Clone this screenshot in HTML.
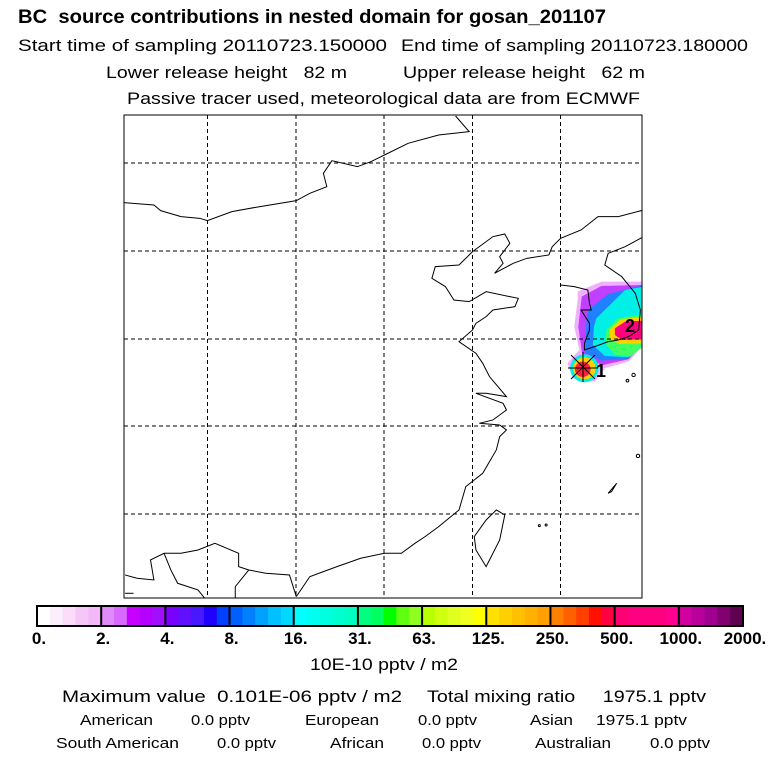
<!DOCTYPE html>
<html><head><meta charset="utf-8">
<style>
body{margin:0;background:#fff;}
svg{display:block;font-family:"Liberation Sans",sans-serif;}
text{white-space:pre;}
</style></head><body>
<svg id="chart" width="768" height="768" viewBox="0 0 768 768">
<g fill="#000">
<text x="18" y="23" font-size="19" font-weight="bold" textLength="588" lengthAdjust="spacingAndGlyphs">BC  source contributions in nested domain for gosan_201107</text>
<text x="18" y="51" font-size="17" textLength="369" lengthAdjust="spacingAndGlyphs">Start time of sampling 20110723.150000</text>
<text x="401" y="51" font-size="17" textLength="347" lengthAdjust="spacingAndGlyphs">End time of sampling 20110723.180000</text>
<text x="106" y="78" font-size="17" textLength="241" lengthAdjust="spacingAndGlyphs">Lower release height   82 m</text>
<text x="403" y="78" font-size="17" textLength="242" lengthAdjust="spacingAndGlyphs">Upper release height   62 m</text>
<text x="127" y="104" font-size="17" textLength="513" lengthAdjust="spacingAndGlyphs">Passive tracer used, meteorological data are from ECMWF</text>
</g>
<defs><clipPath id="mapclip"><rect x="124" y="115" width="518" height="483"/></clipPath></defs>
<g clip-path="url(#mapclip)">
<g transform="translate(120,110) scale(0.339,0.3333)">
<polygon fill="#f0b0ff" points="1350,545 1420,515 1545,515 1545,705 1500,755 1430,775 1400,815 1335,805 1320,760 1355,720 1340,650 1350,570"/>
<polygon fill="#c040ff" points="1362,560 1420,528 1545,525 1545,700 1500,748 1425,765 1365,745 1352,650"/>
<polygon fill="#2080ff" points="1380,600 1440,552 1545,525 1545,697 1500,746 1420,752 1372,728 1375,650"/>
<polygon fill="#00f0e8" points="1405,625 1445,585 1490,540 1545,530 1545,692 1500,742 1430,738 1395,705 1398,650"/>
<polygon fill="#40ff60" points="1435,660 1470,625 1545,612 1545,708 1505,740 1460,735 1432,700"/>
<polygon fill="#ffd000" points="1445,658 1478,628 1545,620 1545,700 1475,702 1445,688"/>
<polygon fill="#ff0080" points="1460,655 1490,635 1545,632 1545,688 1480,690 1460,675"/>
<circle cx="1370" cy="775" r="42" fill="#00f0e8"/>
<circle cx="1370" cy="775" r="33" fill="#ffd000"/>
<circle cx="1365" cy="778" r="23" fill="#ff2040"/>
</g>
<g fill="none" stroke="#000" stroke-width="1" stroke-dasharray="4,3">
<line x1="207.5" y1="115" x2="207.5" y2="598"/><line x1="296" y1="115" x2="296" y2="598"/>
<line x1="384" y1="115" x2="384" y2="598"/><line x1="472.5" y1="115" x2="472.5" y2="598"/>
<line x1="560.5" y1="115" x2="560.5" y2="598"/>
<line x1="124" y1="163" x2="642" y2="163"/><line x1="124" y1="251" x2="642" y2="251"/>
<line x1="124" y1="339" x2="642" y2="339"/><line x1="124" y1="426" x2="642" y2="426"/>
<line x1="124" y1="514" x2="642" y2="514"/>
</g>
<g transform="translate(120,110) scale(0.339,0.3333)" fill="none" stroke="#000" stroke-width="1">
<polyline vector-effect="non-scaling-stroke" points="12,278 100,285 120,302 180,320 235,325 258,332 330,305 400,292 520,272 560,250 610,230 600,190 625,152 700,170 740,155 780,135 850,100 940,75 1030,65 990,18"/>
<polyline vector-effect="non-scaling-stroke" points="1545,300 1470,320 1410,320 1360,360 1300,385 1275,410 1265,435 1200,445 1160,460 1105,490 1130,460 1120,440 1150,400 1135,372 1100,380 1060,410 1040,425 1000,465 930,470 920,505 960,530 985,570 1030,575 1080,545 1150,560 1175,565 1165,590 1100,600 1080,620 1050,640 1040,660 1000,695 1050,730 1070,760 1090,800 1140,860 1080,850 1050,850 1130,880 1140,900 1100,930 1060,940 1120,945 1140,960 1120,980 1110,1020 1070,1090 1020,1130 1000,1200 940,1250 900,1280 870,1300 830,1330 780,1330 710,1345 640,1370 600,1385 560,1400 520,1460"/>
<polyline vector-effect="non-scaling-stroke" points="520,1460 500,1395 430,1390 380,1380 350,1370 350,1330 280,1300 230,1320 180,1330 130,1330 90,1350 100,1410 50,1405 15,1395"/>
<polyline vector-effect="non-scaling-stroke" points="130,1330 150,1380 170,1420 230,1440 250,1465"/>
<polyline vector-effect="non-scaling-stroke" points="380,1380 340,1430 340,1465"/>
<polyline vector-effect="non-scaling-stroke" points="15,1450 40,1450"/>
<polyline vector-effect="non-scaling-stroke" points="1300,525 1340,530 1380,540 1385,580 1390,600 1360,600 1385,640 1385,660 1370,700 1370,720 1400,710 1440,695 1470,690 1500,680 1530,660 1535,600 1520,550 1480,500 1430,465 1440,430 1490,410 1545,380"/>
<polygon vector-effect="non-scaling-stroke" points="1110,1200 1135,1215 1120,1290 1080,1370 1050,1320 1045,1280 1080,1230"/>
<polygon vector-effect="non-scaling-stroke" points="1440,1150 1465,1120 1450,1145"/>
<circle vector-effect="non-scaling-stroke" cx="1515" cy="795" r="5"/><circle vector-effect="non-scaling-stroke" cx="1497" cy="812" r="4"/>
<circle vector-effect="non-scaling-stroke" cx="1528" cy="1038" r="5"/>
<circle vector-effect="non-scaling-stroke" cx="1237" cy="1247" r="3"/><circle vector-effect="non-scaling-stroke" cx="1257" cy="1245" r="3"/>
</g>
<g stroke="#000" stroke-width="1">
<line x1="571" y1="355" x2="595" y2="379"/><line x1="571" y1="379" x2="595" y2="355"/>
<line x1="568" y1="368" x2="598" y2="368"/><line x1="583" y1="352" x2="583" y2="382"/>
</g>
<text x="596" y="377" font-size="18" font-weight="bold">1</text>
<text x="625" y="332" font-size="18" font-weight="bold">2</text>
</g>
<rect x="124" y="115" width="518" height="483" fill="none" stroke="#000" stroke-width="1"/>
<g id="cbar"></g>
<text x="310" y="670" font-size="17" textLength="148" lengthAdjust="spacingAndGlyphs">10E-10 pptv / m2</text>
<g font-size="17">
<text x="62" y="702" textLength="340" lengthAdjust="spacingAndGlyphs">Maximum value  0.101E-06 pptv / m2</text>
<text x="427" y="702" textLength="279" lengthAdjust="spacingAndGlyphs">Total mixing ratio     1975.1 pptv</text>
</g>
<g font-size="15">
<text x="80" y="725" textLength="73" lengthAdjust="spacingAndGlyphs">American</text><text x="191" y="725" textLength="59" lengthAdjust="spacingAndGlyphs">0.0 pptv</text>
<text x="305" y="725" textLength="74" lengthAdjust="spacingAndGlyphs">European</text><text x="418" y="725" textLength="59" lengthAdjust="spacingAndGlyphs">0.0 pptv</text>
<text x="530" y="725" textLength="43" lengthAdjust="spacingAndGlyphs">Asian</text><text x="596" y="725" textLength="91" lengthAdjust="spacingAndGlyphs">1975.1 pptv</text>
<text x="56" y="748" textLength="123" lengthAdjust="spacingAndGlyphs">South American</text><text x="217" y="748" textLength="59" lengthAdjust="spacingAndGlyphs">0.0 pptv</text>
<text x="330" y="748" textLength="54" lengthAdjust="spacingAndGlyphs">African</text><text x="422" y="748" textLength="59" lengthAdjust="spacingAndGlyphs">0.0 pptv</text>
<text x="535" y="748" textLength="76" lengthAdjust="spacingAndGlyphs">Australian</text><text x="650" y="748" textLength="60" lengthAdjust="spacingAndGlyphs">0.0 pptv</text>
</g>
</svg>
<script>
const tickLabels=["0.","2.","4.","8.","16.","31.","63.","125.","250.","500.","1000.","2000."];
const segColors=[
["#ffffff","#fdeefd","#fbdcfb","#f6c6f8","#f2b8f8"],
["#e08cf8","#d868ff","#c800ff","#b400ff","#a010ff"],
["#7a00ff","#6010ff","#4818ff","#2000ff","#0040ff"],
["#0060ff","#0080ff","#00a0ff","#00c0ff","#00d8ff"],
["#00ffff","#00fff0","#00ffe0","#00ffd0","#00ffc0"],
["#00ff80","#00ff60","#00ff00","#60ff10","#90ff20"],
["#b8ff00","#d0ff10","#e0ff20","#f0ff20","#ffff00"],
["#ffe000","#ffd000","#ffc000","#ffb000","#ffa000"],
["#ff8000","#ff6000","#ff4000","#ff1000","#ff0040"],
["#ff0070","#ff0080","#ff0080","#ff0080","#ff0090"],
["#d000a0","#b8009a","#a00090","#800070","#600050"]];
const cb=document.getElementById('cbar');
const NS="http://www.w3.org/2000/svg";
const x0=37,x1=743,y0=606,h=20;
const sw=(x1-x0)/segColors.length;
segColors.forEach((cols,i)=>{
  cols.forEach((c,j)=>{
    const r=document.createElementNS(NS,'rect');
    r.setAttribute('x',x0+i*sw+j*sw/cols.length);r.setAttribute('y',y0);
    r.setAttribute('width',sw/cols.length+0.5);r.setAttribute('height',h);r.setAttribute('fill',c);
    
    
    cb.appendChild(r);
  });
});
for(let i=0;i<=segColors.length;i++){
  const l=document.createElementNS(NS,'line');
  l.setAttribute('x1',x0+i*sw);l.setAttribute('x2',x0+i*sw);l.setAttribute('y1',y0);l.setAttribute('y2',y0+h);
  l.setAttribute('stroke','#000');l.setAttribute('stroke-width','2');
  
  
  cb.appendChild(l);
}
const fr=document.createElementNS(NS,'rect');
fr.setAttribute('x',x0);fr.setAttribute('y',y0);fr.setAttribute('width',x1-x0);fr.setAttribute('height',h);
fr.setAttribute('fill','none');fr.setAttribute('stroke','#000');fr.setAttribute('stroke-width','2');


cb.appendChild(fr);
tickLabels.forEach((t,i)=>{
  const tx=document.createElementNS(NS,'text');
  tx.setAttribute('x',x0+i*sw+2);tx.setAttribute('y',644);
  tx.setAttribute('text-anchor','middle');tx.setAttribute('font-size','17');tx.setAttribute('font-weight','bold');
  tx.textContent=t;
  
  
  cb.appendChild(tx);
});
</script>
</body></html>
